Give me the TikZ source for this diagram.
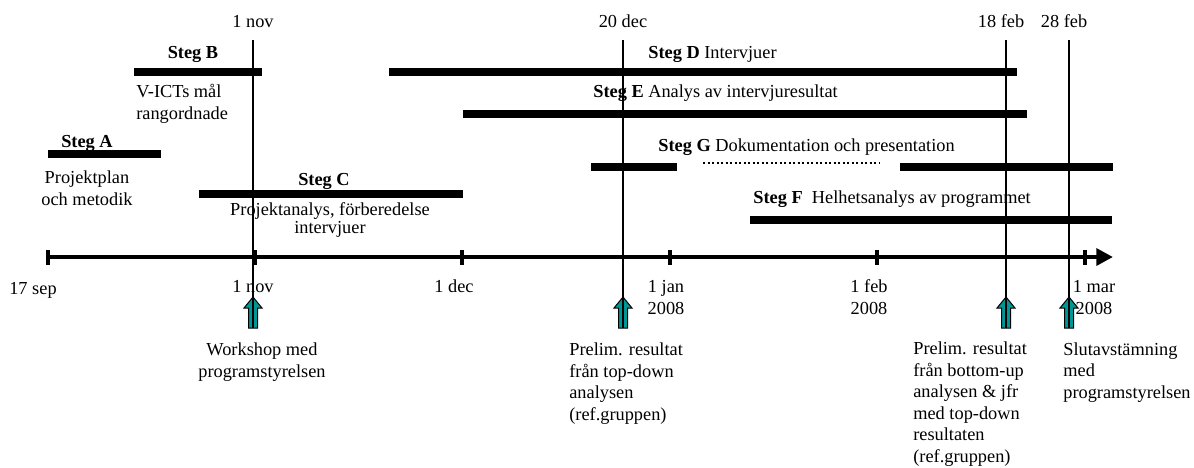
\documentclass[tikz,border=0pt]{standalone}
\usepackage{fontspec}
\setmainfont{Liberation Serif}
\usetikzlibrary{arrows.meta}

\definecolor{arrowteal}{RGB}{0,150,150}

\tikzset{
        txt/.style={inner sep=0pt, font=\fontsize{11}{12.9}\selectfont},
        stegbar/.style={line width=4.8pt},
        dateline/.style={line width=0.9pt},
        tick/.style={line width=2.4pt}
}

% teal up arrow under the time axis, #1 = x, #2 = name of its foot
\newcommand{\milestone}[2]{%
        \draw[fill=arrowteal, line width=0.6pt] (#1-4.5,328) -- (#1-4.5,308) -- (#1-9,308) -- (#1,297)
                -- (#1+9,308) -- (#1+4.5,308) -- (#1+4.5,328) -- cycle;
        \coordinate (#2) at (#1,328);}

\begin{document}
\begin{tikzpicture}[x=0.6pt, y=-0.6pt]
        \useasboundingbox (0,0) rectangle (1194,467);

        % dates on top
        \node[txt, anchor=base] (top nov) at (253,27) {1 nov};
        \node[txt, anchor=base] (top dec) at (623,27) {20 dec};
        \node[txt, anchor=base] (top feb18) at (1001,27) {18 feb};
        \node[txt, anchor=base] (top feb28) at (1064,27) {28 feb};
        \coordinate (nov start) at (253,40);
        \coordinate (dec start) at (623,40);
        \coordinate (feb18 start) at (1006,40);
        \coordinate (feb28 start) at (1069,40);

        % Steg A
        \node[txt, anchor=base] (stegA) at (87,147) {\textbf{Steg A}};
        \draw[stegbar] (48,154) -- (161,154);
        \node[txt, anchor=base, align=center] (stegA text) at (87,205) {Projektplan\\och metodik};

        % Steg B
        \node[txt, anchor=base] (stegB) at (193,58) {\textbf{Steg B}};
        \draw[stegbar] (134,72) -- (262,72);
        \node[txt, anchor=base west, align=left] (stegB text) at (136,119) {V-ICTs mål\\rangordnade};

        % Steg C
        \node[txt, anchor=base] (stegC) at (324,185) {\textbf{Steg C}};
        \draw[stegbar] (199,194) -- (463,194);
        \node[txt, anchor=base, align=center, font=\fontsize{11}{10.8}\selectfont] (stegC text) at (330,233)
                {Projektanalys, förberedelse\\intervjuer};

        % Steg D, E
        \node[txt, anchor=base west] (stegD) at (648,58) {\textbf{Steg D} Intervjuer};
        \draw[stegbar] (389,72) -- (1017,72);
        \node[txt, anchor=base west] (stegE) at (593,97) {\textbf{Steg E} Analys av intervjuresultat};
        \draw[stegbar] (463,114) -- (1027,114);

        % Steg G
        \node[txt, anchor=base west] (stegG) at (658,151) {\textbf{Steg G} Dokumentation och presentation};
        \draw[stegbar] (591,167) -- (677,167);
        \draw[line width=1.4pt, dash pattern=on 1.2pt off 1.5pt] (703,163) -- (880,163);
        \draw[stegbar] (900,167) -- (1113,167);

        % Steg F
        \node[txt, anchor=base west] (stegF) at (753,203) {\textbf{Steg F}~ Helhetsanalys av programmet};
        \draw[stegbar] (750,220) -- (1112,220);

        % time axis
        \draw[line width=2.7pt, -{Triangle[length=10pt, width=10pt]}] (48,257) -- (1113,257);
        \draw[tick] (48,250) -- (48,265);
        \draw[tick] (255,250) -- (255,265);
        \draw[tick] (462,250) -- (462,265);
        \draw[tick] (670,250) -- (670,265);
        \draw[tick] (877,250) -- (877,265);
        \draw[tick] (1085,250) -- (1085,265);

        \node[txt, anchor=base] (sep) at (33,294) {17 sep};
        \node[txt, anchor=base] (nov) at (253,292) {1 nov};
        \node[txt, anchor=base] (dec) at (454,292) {1 dec};
        \node[txt, anchor=base, align=center] (jan) at (666,314) {1 jan\\2008};
        \node[txt, anchor=base, align=center] (feb) at (869,314) {1 feb\\2008};
        \node[txt, anchor=base, align=center] (mar) at (1094,314) {1 mar\\2008};

        % milestones
        \milestone{253}{nov arr}
        \milestone{623}{dec arr}
        \milestone{1006}{feb18 arr}
        \milestone{1069}{feb28 arr}
        \draw[dateline] (nov start) -- (nov arr);
        \draw[dateline] (dec start) -- (dec arr);
        \draw[dateline] (feb18 start) -- (feb18 arr);
        \draw[dateline] (feb28 start) -- (feb28 arr);

        \node[txt, anchor=base, align=center] (workshop) at (262,377) {Workshop med\\programstyrelsen};
        \node[txt, anchor=base west, align=left] (prelim1) at (569,420)
                {Prelim. resultat\\från top-down\\analysen\\(ref.gruppen)};
        \node[txt, anchor=base west, align=left] (prelim2) at (913,462)
                {Prelim. resultat\\från bottom-up\\analysen \& jfr\\med top-down\\resultaten\\(ref.gruppen)};
        \node[txt, anchor=base west, align=left] (slut) at (1063,398)
                {Slutavstämning\\med\\programstyrelsen};

\end{tikzpicture}
\end{document}
